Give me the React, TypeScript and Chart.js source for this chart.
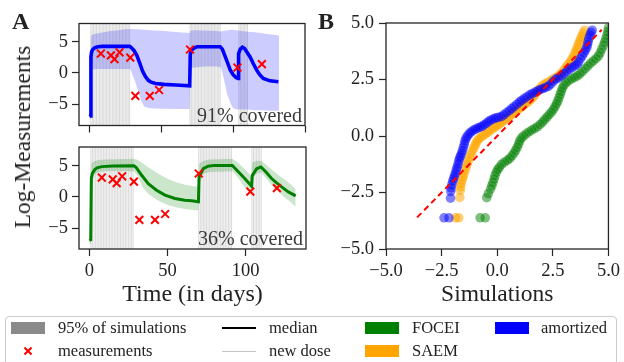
import React, { useEffect, useRef } from "react";
import { Chart, registerables } from "chart.js";

Chart.register(...registerables);

const FONT = "'Liberation Serif', 'Times New Roman', serif";
const TEXT = "#222222";

// ---------- Data ----------
const doseDays = [
  1, 2, 3, 4, 5, 6, 7, 8, 9, 10, 11, 12, 13, 14, 15, 16, 17, 18, 19, 20, 21, 22, 23, 24, 25, 26, 27, 28,
  70, 71, 72, 73, 74, 75, 76, 77, 78, 79, 80, 81, 82, 83, 84, 85, 86, 87, 88, 89, 90, 91,
  104, 105, 106, 107, 108, 109, 110,
];

const measurementDays = [8, 15, 17.5, 21, 28.5, 32, 42, 48.5, 70, 103, 120];
const measurementValues = [3.1, 2.8, 2.2, 3.3, 2.45, -3.7, -3.7, -2.75, 3.75, 0.85, 1.4];

const amortizedMedianDays = [0, 0.8, 1.1, 1.6, 2.5, 4, 6, 9, 28, 29, 31, 33, 35, 37, 39, 41, 43, 46, 52, 60, 69.8, 70.2, 71, 72.5, 75, 91, 92.5, 94.5, 96.5, 98, 100, 102, 103.4, 103.8, 105, 106.5, 108, 110, 111.8, 114, 116.4, 118.5, 121, 125.6, 131.5];
const amortizedMedianValues = [-7, -6.9, 2.6, 3.4, 3.8, 4.05, 4.2, 4.25, 4.25, 4.1, 3.6, 2.8, 1.6, 0.3, -0.6, -1.2, -1.5, -1.7, -1.85, -1.95, -2.08, 3.0, 3.6, 3.95, 4.2, 4.2, 3.8, 2.6, 1.4, 0.45, -0.3, -0.75, -0.9, 3.1, 3.8, 4.1, 3.9, 3.2, 2.56, 1.5, 0.43, -0.3, -0.9, -1.28, -1.44];

const amortizedBandDays = [0, 0.9, 1.1, 2, 5, 10, 15, 20, 25, 28.5, 30, 32, 34, 36, 38, 42, 50, 60, 69.8, 70.2, 72, 80, 88, 91.5, 93, 95.7, 98, 100, 103, 106, 110, 115, 120, 125, 132];
const amortizedBandUpper = [-6.6, -6.6, 5.9, 6.1, 6.3, 6.5, 6.7, 6.85, 7.0, 7.05, 7.05, 7.0, 7.0, 6.95, 6.9, 6.85, 6.75, 6.55, 6.4, 6.7, 6.85, 6.8, 6.7, 6.65, 6.7, 6.8, 6.9, 6.9, 6.8, 6.7, 6.6, 6.5, 6.35, 6.2, 6.0];
const amortizedBandLower = [-7.4, -7.4, 0.3, 0.5, 0.6, 0.6, 0.6, 0.6, 0.6, 0.6, -0.3, -1.5, -3.0, -4.4, -5.4, -5.7, -5.75, -5.8, -5.8, 0.6, 0.8, 1.0, 1.0, 0.9, -0.4, -3.3, -4.8, -5.7, -5.9, -5.9, -5.9, -6.0, -6.0, -6.1, -6.1];

const foceiMedianDays = [0, 0.9, 1.3, 2, 3.6, 5, 8, 15, 28.5, 30, 33.5, 37.7, 43, 48.4, 54.8, 61, 65.5, 69.8, 70.2, 72.9, 76, 80, 91.5, 95, 100, 103.8, 104.2, 107, 109.8, 113, 116.6, 120, 123, 127.3, 132];
const foceiMedianValues = [-7, -6.9, 3.0, 3.8, 4.4, 4.65, 4.85, 4.95, 5.0, 4.7, 3.46, 2.13, 1.07, 0.27, -0.27, -0.54, -0.64, -0.8, 3.2, 4.54, 4.92, 5.05, 5.05, 4.1, 2.8, 1.7, 3.4, 4.5, 4.8, 4.0, 2.94, 2.2, 1.6, 0.8, 0.15];

const foceiBandDays = [0, 0.9, 1.3, 3, 6, 10, 28.5, 31, 34, 38, 44, 50, 56, 62, 69.8, 70.2, 73, 77, 91.5, 95, 100, 103.8, 104.2, 107, 110, 113, 117, 121, 125, 129, 132];
const foceiBandUpper = [-6.3, -6.3, 5.3, 5.7, 5.9, 6.0, 6.1, 5.9, 5.4, 4.7, 3.7, 2.9, 2.3, 1.9, 1.6, 5.3, 5.8, 6.0, 6.1, 5.5, 4.3, 3.3, 5.5, 5.8, 5.8, 5.2, 4.3, 3.5, 2.8, 2.0, 1.2];
const foceiBandLower = [-7.6, -7.6, 2.0, 3.5, 4.0, 4.1, 4.1, 3.3, 1.6, 0.4, -0.6, -1.3, -1.7, -2.0, -2.2, 2.0, 3.7, 4.0, 4.1, 3.1, 1.3, 0.3, 2.8, 3.7, 3.9, 3.0, 1.8, 0.8, -0.1, -0.9, -1.6];

const amortizedQQX = [-2.39, -2.17, -2.1, -2.09, -2.07, -2.04, -2.0, -1.96, -1.92, -1.88, -1.84, -1.8, -1.76, -1.73, -1.69, -1.65, -1.6, -1.56, -1.52, -1.48, -1.45, -1.4, -1.34, -1.26, -1.18, -1.08, -0.98, -0.88, -0.78, -0.68, -0.58, -0.48, -0.38, -0.28, -0.17, -0.06, 0.06, 0.19, 0.3, 0.42, 0.54, 0.65, 0.76, 0.88, 1.0, 1.1, 1.22, 1.34, 1.46, 1.58, 1.7, 1.82, 1.94, 2.06, 2.18, 2.3, 2.41, 2.52, 2.64, 2.76, 2.88, 3.0, 3.12, 3.24, 3.36, 3.48, 3.58, 3.66, 3.74, 3.82, 3.9, 3.97, 4.03, 4.06, 4.09, 4.12, 4.17, 4.22, 4.27];
const amortizedQQY = [-3.62, -3.62, -2.75, -2.45, -2.3, -2.15, -2.0, -1.88, -1.76, -1.64, -1.5, -1.38, -1.24, -1.1, -0.98, -0.88, -0.76, -0.64, -0.5, -0.36, -0.22, -0.1, 0.0, 0.1, 0.18, 0.25, 0.3, 0.35, 0.39, 0.43, 0.5, 0.57, 0.65, 0.71, 0.76, 0.8, 0.83, 0.86, 0.94, 1.03, 1.12, 1.21, 1.3, 1.4, 1.5, 1.58, 1.66, 1.74, 1.82, 1.88, 1.94, 2.0, 2.06, 2.1, 2.15, 2.2, 2.3, 2.42, 2.52, 2.58, 2.66, 2.76, 2.86, 2.95, 3.03, 3.1, 3.17, 3.28, 3.42, 3.55, 3.68, 3.8, 3.92, 4.05, 4.18, 4.32, 4.46, 4.58, 4.68];

const saemQQX = [-1.87, -1.73, -1.68, -1.66, -1.65, -1.62, -1.58, -1.54, -1.5, -1.45, -1.4, -1.35, -1.3, -1.24, -1.18, -1.12, -1.06, -1.0, -0.95, -0.89, -0.8, -0.7, -0.6, -0.5, -0.4, -0.3, -0.2, -0.1, 0.0, 0.1, 0.2, 0.3, 0.4, 0.5, 0.6, 0.7, 0.8, 0.9, 1.0, 1.1, 1.2, 1.3, 1.4, 1.5, 1.6, 1.7, 1.8, 1.9, 2.0, 2.1, 2.22, 2.35, 2.48, 2.6, 2.72, 2.84, 2.95, 3.05, 3.14, 3.22, 3.3, 3.37, 3.44, 3.5, 3.55, 3.6, 3.65, 3.7, 3.75, 3.8, 3.86, 3.93];
const saemQQY = [-3.62, -3.62, -2.72, -2.4, -2.25, -2.1, -1.95, -1.82, -1.68, -1.53, -1.38, -1.24, -1.1, -0.96, -0.82, -0.68, -0.54, -0.42, -0.3, -0.19, -0.1, -0.03, 0.04, 0.11, 0.18, 0.26, 0.33, 0.4, 0.46, 0.53, 0.6, 0.68, 0.75, 0.83, 0.9, 0.98, 1.06, 1.14, 1.22, 1.29, 1.37, 1.44, 1.52, 1.6, 1.7, 1.82, 1.96, 2.09, 2.2, 2.28, 2.35, 2.42, 2.5, 2.56, 2.64, 2.74, 2.86, 2.98, 3.1, 3.2, 3.3, 3.42, 3.55, 3.68, 3.8, 3.92, 4.05, 4.18, 4.3, 4.42, 4.55, 4.68];

const foceiQQX = [-0.77, -0.54, -0.47, -0.4, -0.3, -0.24, -0.19, -0.14, -0.1, -0.04, 0.03, 0.1, 0.2, 0.32, 0.45, 0.56, 0.66, 0.75, 0.83, 0.9, 0.96, 1.01, 1.08, 1.18, 1.3, 1.42, 1.55, 1.68, 1.81, 1.93, 2.04, 2.14, 2.24, 2.34, 2.44, 2.53, 2.6, 2.67, 2.73, 2.78, 2.83, 2.88, 2.93, 3.0, 3.1, 3.22, 3.35, 3.48, 3.6, 3.72, 3.84, 3.96, 4.08, 4.2, 4.32, 4.44, 4.55, 4.63, 4.7, 4.77, 4.83, 4.88, 4.93, 4.97, 5.0];
const foceiQQY = [-3.62, -3.62, -2.73, -2.55, -2.35, -2.2, -2.05, -1.9, -1.75, -1.6, -1.48, -1.38, -1.25, -1.16, -1.08, -1.0, -0.88, -0.76, -0.63, -0.5, -0.36, -0.22, -0.1, 0.0, 0.09, 0.18, 0.26, 0.33, 0.41, 0.51, 0.62, 0.73, 0.84, 0.95, 1.06, 1.18, 1.3, 1.43, 1.56, 1.7, 1.84, 1.98, 2.12, 2.25, 2.36, 2.45, 2.53, 2.6, 2.66, 2.75, 2.86, 2.98, 3.1, 3.22, 3.32, 3.42, 3.54, 3.68, 3.84, 4.0, 4.15, 4.3, 4.46, 4.62, 4.78];

const identityLine = [-3.6, 4.7];

const timeTicksTop = [0, 50, 100, 150];
const timeTicksBottom = [0, 50, 100];
const logTicks = [-5, 0, 5];
const qqTicks = [-5, -2.5, 0, 2.5, 5];

const coverageTop = "91% covered";
const coverageBottom = "36% covered";

// ---------- Helpers ----------
const pts = (xs: number[], ys: number[]) => xs.map((x, i) => ({ x, y: ys[i] }));
const minus = (s: string) => s.replace("-", "\u2212");
const fmtInt = (v: number) => minus(String(v));
const fmtDec = (v: number) => minus(v.toFixed(1));

const framePlugin = {
  id: "frame",
  afterDraw(chart: any) {
    const { ctx, chartArea: a } = chart;
    ctx.save();
    ctx.strokeStyle = "#262626";
    ctx.lineWidth = 1.3;
    ctx.strokeRect(a.left, a.top, a.right - a.left, a.bottom - a.top);
    ctx.restore();
  },
};

const dosePlugin = {
  id: "doseLines",
  beforeDatasetsDraw(chart: any) {
    const { ctx, chartArea: a, scales } = chart;
    ctx.save();
    ctx.beginPath();
    ctx.rect(a.left, a.top, a.right - a.left, a.bottom - a.top);
    ctx.clip();
    ctx.strokeStyle = "rgba(140,140,140,0.32)";
    ctx.lineWidth = 1;
    for (const d of doseDays) {
      const x = scales.x.getPixelForValue(d);
      ctx.beginPath();
      ctx.moveTo(x, a.top);
      ctx.lineTo(x, a.bottom);
      ctx.stroke();
    }
    ctx.restore();
  },
};

const coveragePlugin = (text: string) => ({
  id: "coverage",
  afterDatasetsDraw(chart: any) {
    const { ctx, chartArea: a } = chart;
    ctx.save();
    ctx.font = `20px ${FONT}`;
    ctx.fillStyle = "#3a3a3a";
    ctx.textAlign = "right";
    ctx.textBaseline = "alphabetic";
    ctx.fillText(text, a.right - 3, a.bottom - 4);
    ctx.restore();
  },
});

const tickFont = { family: FONT, size: 18.5 };
const tickGrid = { display: true, drawOnChartArea: false, drawTicks: true, tickLength: 7, tickColor: "#262626", tickWidth: 1.2 };

function timeConfig(p: {
  color: string; band: string; width: number;
  mDays: number[]; mVals: number[]; bDays: number[]; bUp: number[]; bLo: number[];
  xMin: number; xMax: number; xTicks: number[]; showX: boolean;
  top: number; bottom: number; right: number; yMin: number; yMax: number; cover: string;
}) {
  const xH = p.showX ? 60.4 : 10;
  return {
    type: "line",
    data: {
      datasets: [
        {
          type: "scatter", data: pts(measurementDays, measurementValues), order: 0,
          pointStyle: "crossRot", pointRadius: 5.5, borderColor: "#ff0000", borderWidth: 2, backgroundColor: "#ff0000",
        },
        {
          data: pts(p.mDays, p.mVals), order: 1, borderColor: p.color, borderWidth: p.width,
          pointRadius: 0, fill: false, tension: 0,
        },
        {
          data: pts(p.bDays, p.bUp), order: 2, borderWidth: 0, pointRadius: 0,
          fill: "+1", backgroundColor: p.band, borderColor: "rgba(0,0,0,0)",
        },
        {
          data: pts(p.bDays, p.bLo), order: 3, borderWidth: 0, pointRadius: 0, fill: false,
          borderColor: "rgba(0,0,0,0)",
        },
      ],
    },
    options: {
      animation: false, responsive: false, events: [],
      layout: { padding: { left: 0, right: p.right, top: p.top, bottom: 362 - p.bottom - xH } },
      plugins: { legend: { display: false }, tooltip: { enabled: false } },
      scales: {
        x: {
          type: "linear", min: p.xMin, max: p.xMax,
          afterBuildTicks: (s: any) => { s.ticks = p.xTicks.map((v) => ({ value: v })); },
          afterFit: (s: any) => { s.height = xH; },
          ticks: { display: p.showX, font: tickFont, color: TEXT, padding: 4, maxRotation: 0, callback: (v: number) => fmtInt(v) },
          grid: tickGrid, border: { display: false },
          title: { display: p.showX, text: "Time (in days)", font: { family: FONT, size: 24 }, color: TEXT, padding: 0 },
        },
        y: {
          type: "linear", min: p.yMin, max: p.yMax,
          afterBuildTicks: (s: any) => { s.ticks = logTicks.map((v) => ({ value: v })); },
          afterFit: (s: any) => { s.width = 79; },
          ticks: { font: tickFont, color: TEXT, padding: 4, callback: (v: number) => fmtInt(v) },
          grid: tickGrid, border: { display: false },
        },
      },
    },
    plugins: [dosePlugin, coveragePlugin(p.cover), framePlugin],
  };
}

function qqConfig() {
  const dot = (c: string) => ({ pointRadius: 4.8, pointBorderWidth: 0, backgroundColor: c, borderColor: c, showLine: false });
  return {
    type: "scatter",
    data: {
      datasets: [
        {
          type: "line", data: pts(identityLine, identityLine), order: 0, borderColor: "#ff0000", borderWidth: 2,
          borderDash: [6, 4], pointRadius: 0, fill: false,
        },
        { data: pts(amortizedQQX, amortizedQQY), order: 1, ...dot("rgba(0,0,255,0.5)") },
        { data: pts(saemQQX, saemQQY), order: 2, ...dot("rgba(255,165,0,0.55)") },
        { data: pts(foceiQQX, foceiQQY), order: 3, ...dot("rgba(0,128,0,0.5)") },
      ],
    },
    options: {
      animation: false, responsive: false, events: [],
      layout: { padding: { left: 306, right: 12, top: 23, bottom: 362 - 249 - 60 } },
      plugins: { legend: { display: false }, tooltip: { enabled: false } },
      scales: {
        x: {
          type: "linear", min: -5, max: 5,
          afterBuildTicks: (s: any) => { s.ticks = qqTicks.map((v) => ({ value: v })); },
          afterFit: (s: any) => { s.height = 60; },
          ticks: { font: tickFont, color: TEXT, padding: 4, maxRotation: 0, callback: (v: number) => fmtDec(v) },
          grid: tickGrid, border: { display: false },
          title: { display: true, text: "Simulations", font: { family: FONT, size: 23.5 }, color: TEXT, padding: 0 },
        },
        y: {
          type: "linear", min: -5, max: 5,
          afterBuildTicks: (s: any) => { s.ticks = qqTicks.map((v) => ({ value: v })); },
          afterFit: (s: any) => { s.width = 80; },
          ticks: { font: tickFont, color: TEXT, padding: 5, callback: (v: number) => fmtDec(v) },
          grid: tickGrid, border: { display: false },
        },
      },
    },
    plugins: [framePlugin],
  };
}

function ChartCanvas({ make }: { make: () => any }) {
  const ref = useRef<HTMLCanvasElement>(null);
  useEffect(() => {
    const chart = new Chart(ref.current as HTMLCanvasElement, make());
    return () => chart.destroy();
  }, []);
  return (
    <canvas ref={ref} width={624} height={362}
      style={{ position: "absolute", left: 0, top: 0, width: 624, height: 362 }} />
  );
}

const legendText: React.CSSProperties = {
  position: "absolute", fontFamily: FONT, fontSize: 16.5, color: TEXT, lineHeight: "20px", height: 20, whiteSpace: "nowrap",
};

function Patch({ left, top, color }: { left: number; top: number; color: string }) {
  return <div style={{ position: "absolute", left, top, width: 34, height: 12, background: color }} />;
}

export default function App() {
  const row1 = 328;
  const row2 = 351;
  return (
    <div style={{ position: "absolute", left: 0, top: 0, width: 624, height: 362, overflow: "hidden", background: "#fff" }}>
      <ChartCanvas make={() => timeConfig({
        color: "#0000ff", band: "rgba(0,0,255,0.2)", width: 3.6,
        mDays: amortizedMedianDays, mVals: amortizedMedianValues,
        bDays: amortizedBandDays, bUp: amortizedBandUpper, bLo: amortizedBandLower,
        xMin: -7.2, xMax: 150, xTicks: timeTicksTop, showX: false,
        top: 23.5, bottom: 125.5, right: 624 - 305, yMin: -8.45, yMax: 7.92, cover: coverageTop,
      })} />
      <ChartCanvas make={() => timeConfig({
        color: "#008000", band: "rgba(0,128,0,0.2)", width: 3,
        mDays: foceiMedianDays, mVals: foceiMedianValues,
        bDays: foceiBandDays, bUp: foceiBandUpper, bLo: foceiBandLower,
        xMin: -6.6, xMax: 138.6, xTicks: timeTicksBottom, showX: true,
        top: 147, bottom: 249, right: 624 - 306, yMin: -8.37, yMax: 8.0, cover: coverageBottom,
      })} />
      <ChartCanvas make={qqConfig} />

      <div style={{ position: "absolute", left: 12, top: 9, fontFamily: FONT, fontWeight: "bold", fontSize: 24, lineHeight: "24px", color: TEXT }}>A</div>
      <div style={{ position: "absolute", left: 318, top: 9, fontFamily: FONT, fontWeight: "bold", fontSize: 24, lineHeight: "24px", color: TEXT }}>B</div>
      <div style={{
        position: "absolute", left: 22, top: 137, transform: "translate(-50%, -50%) rotate(-90deg)",
        fontFamily: FONT, fontSize: 23.5, color: TEXT, whiteSpace: "nowrap", lineHeight: "28px",
      }}>Log-Measurements</div>

      <div style={{ position: "absolute", left: 5, top: 316, width: 612, height: 60, border: "1px solid #cccccc", borderRadius: 4, boxSizing: "border-box" }} />
      <Patch left={11} top={row1 - 6} color="#8a8a8a" />
      <div style={{ ...legendText, left: 58, top: row1 - 10 }}>95% of simulations</div>
      <div style={{ position: "absolute", left: 222, top: row1 - 1, width: 34, height: 2, background: "#000" }} />
      <div style={{ ...legendText, left: 269, top: row1 - 10 }}>median</div>
      <Patch left={365} top={row1 - 6} color="#008000" />
      <div style={{ ...legendText, left: 412, top: row1 - 10 }}>FOCEI</div>
      <Patch left={495} top={row1 - 6} color="#0000ff" />
      <div style={{ ...legendText, left: 541, top: row1 - 10 }}>amortized</div>

      <div style={{ position: "absolute", left: 23, top: row2 - 1, width: 10, height: 2, background: "#ff0000", transform: "rotate(45deg)" }} />
      <div style={{ position: "absolute", left: 23, top: row2 - 1, width: 10, height: 2, background: "#ff0000", transform: "rotate(-45deg)" }} />
      <div style={{ ...legendText, left: 58, top: row2 - 10 }}>measurements</div>
      <div style={{ position: "absolute", left: 222, top: row2, width: 34, height: 1, background: "#c4c4c4" }} />
      <div style={{ ...legendText, left: 269, top: row2 - 10 }}>new dose</div>
      <Patch left={365} top={row2 - 6} color="#ffa500" />
      <div style={{ ...legendText, left: 412, top: row2 - 10 }}>SAEM</div>
    </div>
  );
}
